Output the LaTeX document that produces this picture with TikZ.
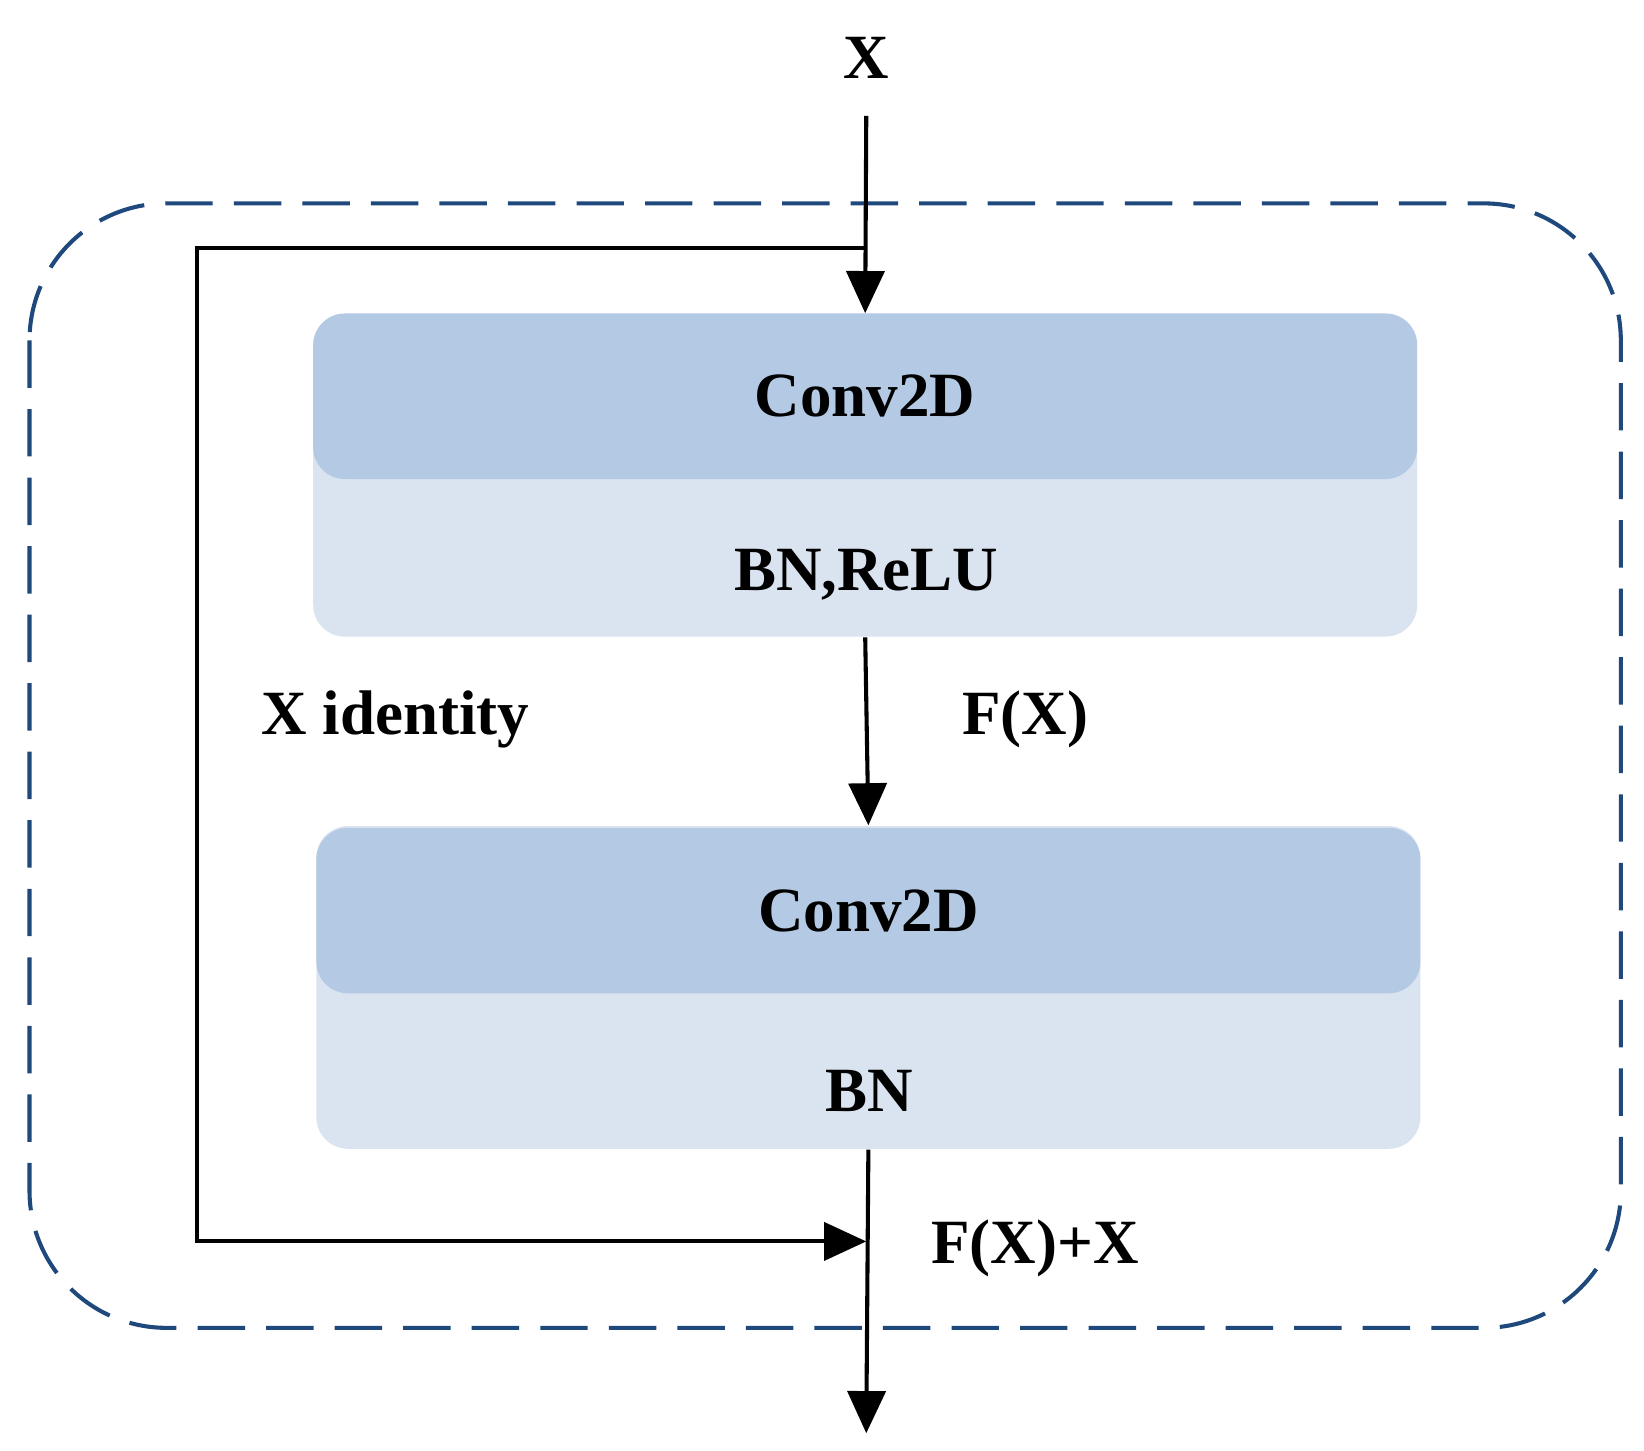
\documentclass[tikz,border=0pt]{standalone}
\usepackage{fontspec}
\setmainfont{Liberation Serif}
\usetikzlibrary{arrows.meta,positioning}
\definecolor{boxdark}{HTML}{B4C9E4}
\definecolor{boxlight}{HTML}{DAE3F0}
\definecolor{frameblue}{HTML}{1F497D}
\begin{document}
\begin{tikzpicture}[x=0.01cm, y=-0.01cm, font=\fontsize{17}{20}\selectfont\bfseries,
	block/.style={fill=boxlight, rounded corners=0.3cm, minimum width=10.47cm, minimum height=3.06cm, inner sep=0pt},
	band/.style={fill=boxdark, rounded corners=0.3cm, minimum width=10.47cm, minimum height=1.57cm, inner sep=0pt},
	txt/.style={inner sep=0pt},
	flow/.style={line width=1.1pt, -{Triangle[length=0.4cm, width=0.36cm]}}]
	\useasboundingbox (0,0) rectangle (1560,1376);
	\draw[frameblue, line width=1.1pt, dash pattern=on 0.45cm off 0.2cm, rounded corners=1.3cm] (28,193) rectangle (1538,1260);

	\node[block] (blk1) at (821,451) {};
	\node[band] (conv1) at (821,376) {Conv2D};
	\node[txt] (bnrelu) at (822,545) {BN,ReLU};
	\node[block] (blk2) at (824,937) {};
	\node[band] (conv2) at (824,864) {Conv2D};
	\node[txt] (bn) at (825,1035) {BN};

	\node[txt] (x) at (822,55) {X};
	\node[txt] (ident) at (375,683) {X identity};
	\node[txt] (fx) at (973,683) {F(X)};
	\node[txt] (fxx) at (982,1185) {F(X)+X};

	\coordinate (top) at (822,110);
	\coordinate (split) at (822,235);
	\coordinate (join) at (822,1178);
	\coordinate (out) at (822,1360);

	\draw[flow] (top) -- (blk1.north);
	\draw[flow] (blk1.south) -- (blk2.north);
	\draw[flow] (blk2.south) -- (out);
	\draw[flow] (split) -| (187,1178) -- (join);
\end{tikzpicture}
\end{document}
